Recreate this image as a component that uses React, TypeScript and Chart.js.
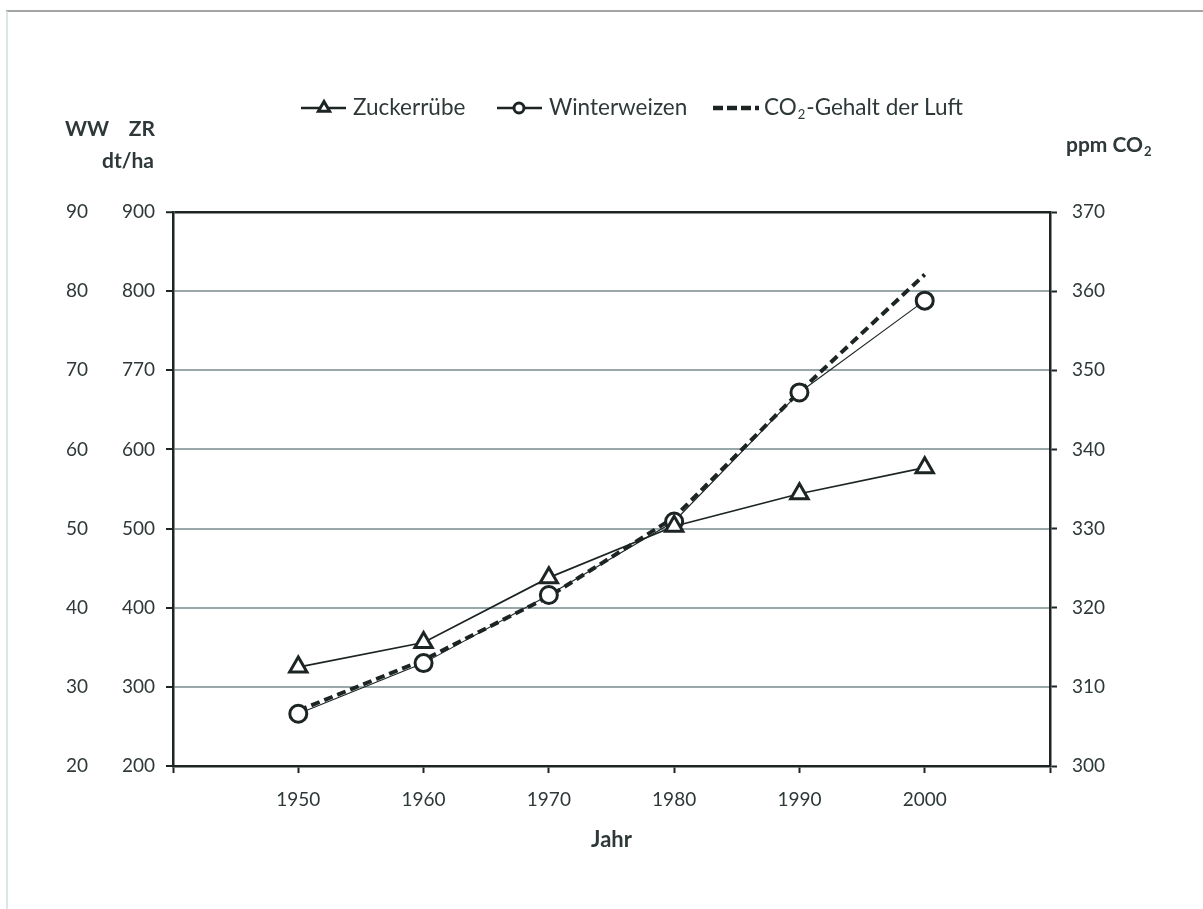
import React, { useEffect, useRef } from 'react';
import { Chart, registerables } from 'chart.js';

Chart.register(...registerables);

const FONT = 'Lato, "Open Sans", sans-serif';
const TEXT = '#2e3838';
const DARK = '#1c2424';
const GRID = '#98a8a8';

const years = [1950, 1960, 1970, 1980, 1990, 2000];
const zuckerruebe = [325, 356, 438, 503, 544, 577];
const winterweizen = [26.6, 33.0, 41.6, 50.9, 67.2, 78.8];
const co2 = [307.0, 313.4, 321.4, 331.4, 347.3, 362.1];

const xTickLabels = ['', '1950', '1960', '1970', '1980', '1990', '2000', ''];
const zrTickLabels = ['200', '300', '400', '500', '600', '770', '800', '900'];
const wwTickLabels = ['20', '30', '40', '50', '60', '70', '80', '90'];
const co2TickLabels = ['300', '310', '320', '330', '340', '350', '360', '370'];

const legendLabels = ['Zuckerrübe', 'Winterweizen', 'CO', '2', '-Gehalt der Luft'];
const axisHeaders = ['WW', 'ZR', 'dt/ha', 'ppm CO', '2', 'Jahr'];

const overlayPlugin = {
  id: 'overlay',
  beforeDraw(chart: any) {
    const ctx = chart.ctx;
    ctx.save();
    ctx.fillStyle = '#ffffff';
    ctx.fillRect(0, 0, chart.width, chart.height);
    ctx.strokeStyle = '#a4a4a4';
    ctx.lineWidth = 2;
    ctx.beginPath();
    ctx.moveTo(6, 11);
    ctx.lineTo(chart.width, 11);
    ctx.stroke();
    ctx.strokeStyle = '#cfdede';
    ctx.lineWidth = 1.5;
    ctx.beginPath();
    ctx.moveTo(7, 11);
    ctx.lineTo(7, chart.height);
    ctx.stroke();
    ctx.restore();
  },
  afterDraw(chart: any) {
    const ctx = chart.ctx;
    ctx.save();
    ctx.fillStyle = TEXT;
    ctx.textBaseline = 'middle';
    // axis headers
    ctx.font = `bold 21px ${FONT}`;
    ctx.textAlign = 'left';
    ctx.fillText(axisHeaders[0], 65, 129);
    ctx.textAlign = 'right';
    ctx.fillText(axisHeaders[1], 155, 129);
    ctx.fillText(axisHeaders[2], 154, 161);
    ctx.textAlign = 'left';
    ctx.fillText(axisHeaders[3], 1066, 145);
    const w1 = ctx.measureText(axisHeaders[3]).width;
    ctx.font = `bold 13px ${FONT}`;
    ctx.fillText(axisHeaders[4], 1066 + w1 + 1, 152);

    // legend
    const ly = 108;
    ctx.strokeStyle = DARK;
    ctx.lineCap = 'butt';
    ctx.lineWidth = 2.5;
    ctx.beginPath();
    ctx.moveTo(301, ly);
    ctx.lineTo(346, ly);
    ctx.stroke();
    ctx.fillStyle = '#ffffff';
    ctx.lineWidth = 3;
    ctx.beginPath();
    const r = 6.5;
    ctx.moveTo(324, ly - r);
    ctx.lineTo(324 + r * 0.866, ly + r * 0.5);
    ctx.lineTo(324 - r * 0.866, ly + r * 0.5);
    ctx.closePath();
    ctx.fill();
    ctx.stroke();
    ctx.lineWidth = 2.5;
    ctx.beginPath();
    ctx.moveTo(497, ly);
    ctx.lineTo(542, ly);
    ctx.stroke();
    ctx.lineWidth = 3;
    ctx.beginPath();
    ctx.arc(519, ly, 5, 0, Math.PI * 2);
    ctx.fill();
    ctx.stroke();
    ctx.lineWidth = 4.5;
    ctx.setLineDash([10, 4]);
    ctx.beginPath();
    ctx.moveTo(713, ly);
    ctx.lineTo(759, ly);
    ctx.stroke();
    ctx.setLineDash([]);

    ctx.fillStyle = TEXT;
    ctx.font = `22.5px ${FONT}`;
    ctx.textAlign = 'left';
    ctx.fillText(legendLabels[0], 353, ly);
    ctx.fillText(legendLabels[1], 549, ly);
    ctx.fillText(legendLabels[2], 764, ly);
    const wc = ctx.measureText(legendLabels[2]).width;
    ctx.font = `13px ${FONT}`;
    ctx.fillText(legendLabels[3], 764 + wc + 1, ly + 7);
    const w2 = ctx.measureText(legendLabels[3]).width;
    ctx.font = `22.5px ${FONT}`;
    ctx.fillText(legendLabels[4], 764 + wc + w2 + 2, ly);
    ctx.restore();
  },
};

export default function App() {
  const ref = useRef<HTMLCanvasElement | null>(null);

  useEffect(() => {
    if (!ref.current) return;
    const tickFont = { family: FONT, size: 19 };
    const chart = new Chart(ref.current, {
      type: 'line',
      data: {
        datasets: [
          {
            label: 'Zuckerrübe',
            data: years.map((x, i) => ({ x, y: zuckerruebe[i] })),
            yAxisID: 'y',
            borderColor: DARK,
            borderWidth: 1.7,
            pointStyle: 'triangle',
            pointRadius: 10,
            pointBorderWidth: 3,
            pointBackgroundColor: '#ffffff',
            pointBorderColor: DARK,
            tension: 0,
          },
          {
            label: 'Winterweizen',
            data: years.map((x, i) => ({ x, y: winterweizen[i] })),
            yAxisID: 'yWW',
            borderColor: DARK,
            borderWidth: 1.1,
            pointStyle: 'circle',
            pointRadius: 8.5,
            pointBorderWidth: 3,
            pointBackgroundColor: '#ffffff',
            pointBorderColor: DARK,
            tension: 0,
          },
          {
            label: 'CO2-Gehalt der Luft',
            data: years.map((x, i) => ({ x, y: co2[i] })),
            yAxisID: 'yCO2',
            borderColor: DARK,
            borderWidth: 4,
            borderDash: [9, 5],
            borderCapStyle: 'butt',
            pointRadius: 0,
            tension: 0,
          },
        ],
      },
      options: {
        responsive: false,
        animation: false,
        layout: { padding: { left: 0, right: 73, top: 212, bottom: 43 } },
        plugins: {
          legend: { display: false },
          tooltip: { enabled: false },
        },
        scales: {
          x: {
            type: 'linear',
            min: 1940,
            max: 2010,
            afterFit: (s: any) => {
              s.height = 100;
            },
            afterBuildTicks: (s: any) => {
              s.ticks = xTickLabels.map((_, i) => ({ value: 1940 + i * 10 }));
            },
            ticks: {
              autoSkip: false,
              maxRotation: 0,
              padding: 15,
              color: TEXT,
              font: tickFont,
              callback: (_v: any, i: number) => xTickLabels[i],
            },
            grid: {
              drawOnChartArea: false,
              tickLength: 7,
              tickColor: DARK,
              tickWidth: 2,
            },
            border: { color: DARK, width: 2.5 },
            title: {
              display: true,
              text: axisHeaders[5],
              color: TEXT,
              font: { family: FONT, size: 22, weight: 'bold' },
              padding: { top: 4, bottom: 13 },
            },
          },
          y: {
            type: 'linear',
            position: 'left',
            weight: 0,
            min: 200,
            max: 900,
            afterFit: (s: any) => {
              s.width = 73;
            },
            afterBuildTicks: (s: any) => {
              s.ticks = zrTickLabels.map((_, i) => ({ value: 200 + i * 100 }));
            },
            ticks: {
              padding: 11,
              color: TEXT,
              font: tickFont,
              callback: (_v: any, i: number) => zrTickLabels[i],
            },
            grid: {
              color: (c: any) => (c.tick && c.tick.value === 900 ? DARK : GRID),
              lineWidth: (c: any) => (c.tick && c.tick.value === 900 ? 2.5 : 2),
              tickLength: 7,
              tickColor: DARK,
              tickWidth: 2,
            },
            border: { color: DARK, width: 2.5 },
          },
          yWW: {
            type: 'linear',
            position: 'left',
            weight: 1,
            min: 20,
            max: 90,
            afterFit: (s: any) => {
              s.width = 100;
            },
            afterBuildTicks: (s: any) => {
              s.ticks = wwTickLabels.map((_, i) => ({ value: 20 + i * 10 }));
            },
            ticks: {
              padding: 12,
              color: TEXT,
              font: tickFont,
              callback: (_v: any, i: number) => wwTickLabels[i],
            },
            grid: { display: false, drawTicks: false },
            border: { display: false },
          },
          yCO2: {
            type: 'linear',
            position: 'right',
            min: 300,
            max: 370,
            afterFit: (s: any) => {
              s.width = 80;
            },
            afterBuildTicks: (s: any) => {
              s.ticks = co2TickLabels.map((_, i) => ({ value: 300 + i * 10 }));
            },
            ticks: {
              padding: 15,
              color: TEXT,
              font: tickFont,
              callback: (_v: any, i: number) => co2TickLabels[i],
            },
            grid: {
              drawOnChartArea: false,
              tickLength: 7,
              tickColor: DARK,
              tickWidth: 2,
            },
            border: { color: DARK, width: 2.5 },
          },
        },
      },
      plugins: [overlayPlugin],
    } as any);
    return () => chart.destroy();
  }, []);

  return (
    <canvas
      ref={ref}
      width={1203}
      height={909}
      style={{ position: 'fixed', left: 0, top: 0, width: 1203, height: 909 }}
    />
  );
}
